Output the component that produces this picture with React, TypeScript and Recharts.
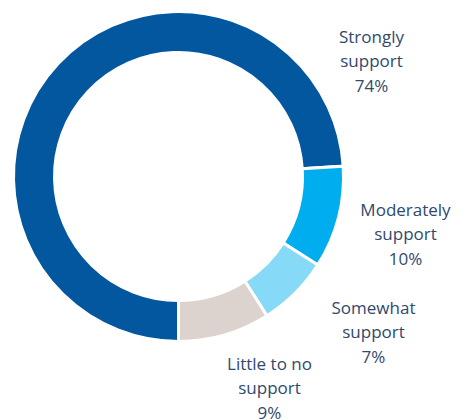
import React from "react";
import { PieChart, Pie, Cell } from "recharts";

const categories = ["Strongly support", "Moderately support", "Somewhat support", "Little to no support"];
const values = [74, 10, 7, 9];
const labelLines = [
  ["Strongly", "support", "74%"],
  ["Moderately", "support", "10%"],
  ["Somewhat", "support", "7%"],
  ["Little to no", "support", "9%"],
];
const COLORS = ["#02579F", "#00AEEF", "#87D9F8", "#DDD3CE"];
// label centre offsets from the pie centre (px)
const LABEL_OFFSETS = [
  [193, -116],
  [227, 57],
  [195, 155],
  [91, 211],
];

const data = categories.map((name, i) => ({ name, value: values[i] }));

const renderLabel = (props: any) => {
  const { cx, cy, index } = props;
  const [dx, dy] = LABEL_OFFSETS[index];
  const x = cx + dx;
  const y = cy + dy;
  const lh = 24.5;
  return (
    <text
      x={x}
      y={y}
      textAnchor="middle"
      fill="#2F4A6C"
      fontFamily="'Open Sans', sans-serif"
      fontSize={17}
    >
      {labelLines[index].map((t, k) => (
        <tspan key={k} x={x} y={y + (k - 1) * lh} dominantBaseline="central">
          {t}
        </tspan>
      ))}
    </text>
  );
};

export default function App() {
  return (
    <div style={{ position: "absolute", left: 0, top: 0, width: 466, height: 420 }}>
      <PieChart width={466} height={420} margin={{ top: 0, right: 0, bottom: 0, left: 0 }}>
        <Pie
          data={data}
          dataKey="value"
          nameKey="name"
          cx={178.5}
          cy={176.5}
          innerRadius={124}
          outerRadius={165}
          startAngle={-90}
          endAngle={-450}
          stroke="#ffffff"
          strokeWidth={3}
          label={renderLabel}
          labelLine={false}
          isAnimationActive={false}
        >
          {data.map((d, i) => (
            <Cell key={d.name} fill={COLORS[i]} />
          ))}
        </Pie>
      </PieChart>
    </div>
  );
}
